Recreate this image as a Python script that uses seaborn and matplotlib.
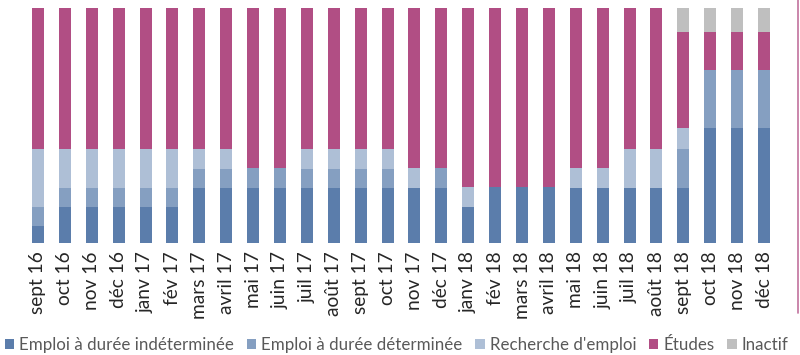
import matplotlib
matplotlib.use("Agg")
import matplotlib.pyplot as plt
from matplotlib.lines import Line2D
import seaborn as sns
import pandas as pd

# Monthly situation of the cohort, in % of respondents
mois = ["sept 16", "oct 16", "nov 16", "déc 16", "janv 17", "fév 17", "mars 17",
        "avril 17", "mai 17", "juin 17", "juil 17", "août 17", "sept 17", "oct 17",
        "nov 17", "déc 17", "janv 18", "fév 18", "mars 18", "avril 18", "mai 18",
        "juin 18", "juil 18", "août 18", "sept 18", "oct 18", "nov 18", "déc 18"]

cdi = [7.2, 15.3, 15.3, 15.3, 15.3, 15.3, 23.4, 23.4, 23.4, 23.4, 23.4, 23.4, 23.4, 23.4,
       23.4, 23.4, 15.3, 23.8, 23.8, 23.8, 23.4, 23.4, 23.4, 23.4, 23.4, 48.9, 48.9, 48.9]
cdd = [8.1, 8.1, 8.1, 8.1, 8.1, 8.1, 8.1, 8.1, 8.5, 8.5, 8.1, 8.1, 8.1, 8.1,
       0.0, 8.5, 0.0, 0.0, 0.0, 0.0, 0.0, 0.0, 0.0, 0.0, 16.6, 24.7, 24.7, 24.7]
recherche = [24.7, 16.6, 16.6, 16.6, 16.6, 16.6, 8.5, 8.5, 0.0, 0.0, 8.5, 8.5, 8.5, 8.5,
             8.5, 0.0, 8.5, 0.0, 0.0, 0.0, 8.5, 8.5, 16.6, 16.6, 8.9, 0.0, 0.0, 0.0]
etudes = [60.0, 60.0, 60.0, 60.0, 60.0, 60.0, 60.0, 60.0, 68.1, 68.1, 60.0, 60.0, 60.0, 60.0,
          68.1, 68.1, 76.2, 76.2, 76.2, 76.2, 68.1, 68.1, 60.0, 60.0, 40.9, 16.2, 16.2, 16.2]
inactif = [0.0] * 24 + [10.2, 10.2, 10.2, 10.2]

series = [
    ("Emploi à durée indéterminée", cdi, "#5b7dab"),
    ("Emploi à durée déterminée", cdd, "#859fc1"),
    ("Recherche d'emploi", recherche, "#aebfd6"),
    ("Études", etudes, "#b14e84"),
    ("Inactif", inactif, "#bfbfbf"),
]

sns.set_style("white")
plt.rcParams["font.family"] = ["Lato", "DejaVu Sans"]

fig = plt.figure(figsize=(8.0, 3.55), dpi=100)
ax = fig.add_axes([24.5 / 800, 112 / 355, 753 / 800, 235 / 355])

base = [0.0] * len(mois)
for nom, vals, couleur in series:
    df = pd.DataFrame({"mois": mois, "valeur": vals})
    sns.barplot(data=df, x="mois", y="valeur", bottom=base, color=couleur,
                width=0.446, errorbar=None, saturation=1, label=nom,
                linewidth=0, ax=ax)
    base = [b + v for b, v in zip(base, vals)]

ax.set_ylim(0, 100)
ax.set_xlim(-0.5, len(mois) - 0.5)
ax.set_xlabel("")
ax.set_ylabel("")
ax.set_yticks([])
for s in ax.spines.values():
    s.set_visible(False)
ax.tick_params(axis="x", length=0, pad=6, labelsize=13.8, labelcolor="#262626")
plt.setp(ax.get_xticklabels(), rotation=90)

leg = ax.legend(loc="lower left", bbox_to_anchor=(5 / 800, 2 / 355),
                bbox_transform=fig.transFigure, ncol=5, frameon=False,
                fontsize=12.2, handlelength=0.55, handleheight=0.55,
                handletextpad=0.3, columnspacing=0.75, borderpad=0,
                borderaxespad=0)
for t in leg.get_texts():
    t.set_color("#595959")

# thin coloured rule at the right border
fig.add_artist(Line2D([798 / 800, 798 / 800], [42 / 355, 1.0],
                      transform=fig.transFigure, color="#b14e84",
                      linewidth=1.2, alpha=0.8))

fig.savefig("out.png", dpi=100)
